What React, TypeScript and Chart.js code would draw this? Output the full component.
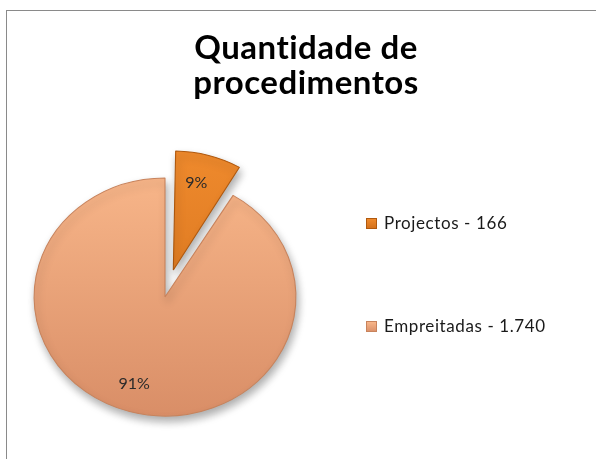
import React, { useEffect, useRef } from "react";
import { Chart, registerables } from "chart.js";
Chart.register(...registerables);

const titleLines = ["Quantidade de", "procedimentos"];
const categories = ["Projectos", "Empreitadas"];
const values = [166, 1740];
const valueLabels = ["166", "1.740"];
const percentLabels = ["9%", "91%"];

const sliceTop = ["#F28D2F", "#FBBA8D"];
const sliceBottom = ["#D26F1A", "#D98E67"];
const sliceBorder = ["#B0590E", "#C8835C"];
const EXPLODE = 28; // px the first slice is pulled out
const RADIUS = 119;
const STRETCH_X = 1.1;

const FONT = "Lato, 'Noto Sans', sans-serif";

const overlay = {
  id: "overlay",
  afterDatasetUpdate(chart: any, args: any) {
    if (args.index !== 0) return;
    const meta = chart.getDatasetMeta(0);
    // Chart.js grows an offset slice by (offset/4)*fix; keep the exploded slice the same radius
    const arc = meta.data[0];
    if (arc) {
      const fix = 1 - Math.sin(Math.min(Math.PI, arc.circumference || 0));
      arc.outerRadius = RADIUS - EXPLODE * fix;
    }
  },
  beforeDatasetsDraw(chart: any) {
    const ctx = chart.ctx;
    const arc = chart.getDatasetMeta(0).data[1];
    ctx.save();
    ctx.translate(arc.x, arc.y);
    ctx.scale(STRETCH_X, 1);
    ctx.translate(-arc.x, -arc.y);
    ctx.shadowColor = "rgba(0,0,0,0.33)";
    ctx.shadowBlur = 9;
    ctx.shadowOffsetX = 2;
    ctx.shadowOffsetY = 5;
  },
  afterDatasetsDraw(chart: any) {
    const ctx = chart.ctx;
    ctx.restore();
    const meta = chart.getDatasetMeta(0);
    ctx.save();
    ctx.fillStyle = "#2a2a2a";
    ctx.font = `16px ${FONT}`;
    ctx.textAlign = "center";
    ctx.textBaseline = "middle";
    meta.data.forEach((arc: any, i: number) => {
      const mid = (arc.startAngle + arc.endAngle) / 2;
      const off = i === 0 ? EXPLODE : 0;
      const r = RADIUS * 0.76 + off;
      ctx.fillText(percentLabels[i], arc.x + Math.cos(mid) * r * STRETCH_X - 4, arc.y + Math.sin(mid) * r);
    });
    ctx.restore();
  },
  afterDraw(chart: any) {
    const ctx = chart.ctx;
    ctx.save();
    ctx.fillStyle = "#000";
    ctx.font = `bold 33px ${FONT}`;
    (ctx as any).letterSpacing = "0.5px";
    ctx.textAlign = "center";
    ctx.textBaseline = "alphabetic";
    ctx.fillText(titleLines[0], 306, 59);
    ctx.fillText(titleLines[1], 306, 94);

    const ys = [223, 326];
    categories.forEach((c, i) => {
      const y = ys[i];
      const g = ctx.createLinearGradient(0, y - 5, 0, y + 6);
      g.addColorStop(0, sliceTop[i]);
      g.addColorStop(1, sliceBottom[i]);
      ctx.fillStyle = g;
      ctx.fillRect(366, y - 5, 11, 11);
      ctx.strokeStyle = sliceBorder[i];
      ctx.lineWidth = 1;
      ctx.strokeRect(366.5, y - 4.5, 10, 10);
      ctx.fillStyle = "#1a1a1a";
      ctx.font = `17px ${FONT}`;
      (ctx as any).letterSpacing = "0.6px";
      ctx.textAlign = "left";
      ctx.textBaseline = "alphabetic";
      ctx.fillText(`${c} - ${valueLabels[i]}`, 384, y + 6);
    });
    ctx.restore();
  },
};

export default function App() {
  const ref = useRef<HTMLCanvasElement | null>(null);
  useEffect(() => {
    if (!ref.current) return;
    const chart = new Chart(ref.current, {
      type: "pie",
      data: {
        labels: categories,
        datasets: [
          {
            data: values,
            backgroundColor: (context: any) => {
              const ch = context.chart;
              const area = ch.chartArea;
              const i = context.dataIndex;
              if (!area) return sliceTop[i];
              const cy = (area.top + area.bottom) / 2;
              const g = ch.ctx.createLinearGradient(0, cy - RADIUS - 30, 0, cy + RADIUS);
              g.addColorStop(0, sliceTop[i]);
              g.addColorStop(1, sliceBottom[i]);
              return g;
            },
            borderColor: sliceBorder,
            borderWidth: 1,
            offset: [EXPLODE * 4, 0],
          },
        ],
      },
      options: {
        responsive: false,
        animation: false,
        devicePixelRatio: 1,
        radius: RADIUS,
        layout: { padding: { left: 10, right: 276, top: 150, bottom: 15 } },
        plugins: {
          legend: { display: false },
          title: { display: false },
          tooltip: { enabled: false },
        },
      } as any,
      plugins: [overlay],
    });
    return () => chart.destroy();
  }, []);
  return (
    <div style={{ position: "fixed", left: 0, top: 0, width: 596, height: 459, overflow: "hidden", background: "#fff" }}>
      <div
        style={{
          position: "absolute",
          left: 6,
          top: 10,
          width: 640,
          height: 500,
          border: "1px solid #8a8a8a",
        }}
      />
      <canvas ref={ref} width={596} height={459} style={{ position: "absolute", left: 0, top: 0 }} />
    </div>
  );
}
